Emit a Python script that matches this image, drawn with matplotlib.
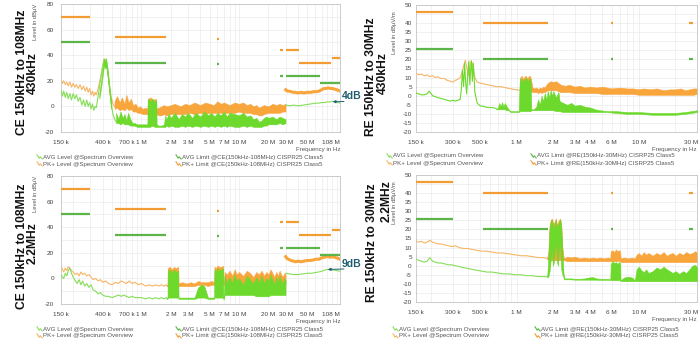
import matplotlib
matplotlib.use("Agg")
import matplotlib.pyplot as plt
from matplotlib.ticker import NullLocator
from matplotlib.lines import Line2D

plt.rcParams['font.family'] = ['Liberation Sans', 'DejaVu Sans']

# ---------------- axis ticks ----------------
ce_x_ticks = [0.15, 0.4, 0.7, 1, 2, 3, 5, 7, 10, 20, 30, 50, 88]
ce_x_labels = ['150 k', '400 k', '700 k', '1 M', '2 M', '3 M', '5 M', '7 M', '10 M', '20 M', '30 M', '50 M', '108 M']
re_x_ticks = [0.15, 0.3, 0.5, 1, 2, 3, 4, 6, 10, 27]
re_x_labels = ['150 k', '300 k', '500 k', '1 M', '2 M', '3 M', '4 M', '6 M', '10 M', '30 M']
ce_y_ticks = [-20, 0, 20, 40, 60, 80]
re_y_ticks = [-20, -15, -10, -5, 0, 5, 10, 15, 20, 25, 30, 35, 40, 50]

# ---------------- limits (MHz start, MHz stop, level) ----------------
ce_pk_lim_start = [0.15, 0.53, 5.9, 26, 30, 41.5, 89]
ce_pk_lim_stop = [0.30, 1.8, 6.2, 28, 41, 88, 108]
ce_pk_lim_level = [70, 54, 53, 44, 44, 34, 38]
ce_avg_lim_start = [0.15, 0.53, 5.9, 26, 30, 68]
ce_avg_lim_stop = [0.30, 1.8, 6.2, 28, 68, 108]
ce_avg_lim_level = [50, 34, 33, 24, 24, 18]
re_lim_start = [0.15, 0.53, 5.9, 26]
re_lim_stop = [0.30, 1.8, 6.2, 28]
re_pk_lim_level = [46, 40, 40, 40]
re_avg_lim_level = [26, 20, 20, 20]

# ---------------- CE 430 kHz ----------------
ce1_pk_f = [0.150, 0.155, 0.160, 0.166, 0.172, 0.178, 0.185, 0.192, 0.200, 0.208,
            0.216, 0.225, 0.235, 0.245, 0.255, 0.265, 0.275, 0.285, 0.295, 0.305,
            0.315, 0.325, 0.335, 0.345, 0.360, 0.380, 0.400, 0.415, 0.425, 0.435,
            0.450, 0.470, 0.490, 0.510, 0.530]
ce1_pk_v = [21, 18, 20, 17, 19, 16, 19, 15, 18, 15,
            17, 14, 17, 13, 16, 12, 15, 11, 14, 9,
            12, 8, 11, 9, 14, 22, 31, 37, 34, 37,
            29, 17, 7, 2, 0]
ce1_avg_f = [0.150, 0.155, 0.160, 0.166, 0.172, 0.178, 0.185, 0.192, 0.200, 0.208,
             0.216, 0.225, 0.235, 0.245, 0.255, 0.265, 0.275, 0.285, 0.295, 0.305,
             0.315, 0.325, 0.335, 0.345, 0.360, 0.380, 0.400, 0.415, 0.425, 0.435,
             0.450, 0.470, 0.490, 0.510, 0.530, 0.550]
ce1_avg_v = [13, 8, 12, 7, 11, 6, 10, 5, 10, 6,
             9, 4, 7, 1, 5, 0, 5, 0, 3, -2,
             2, -3, 0, -1, 8, 20, 31, 37, 33, 37,
             28, 15, 3, -6, -10, -12]
ce1_peak_f = [0.37, 0.39, 0.405, 0.415, 0.425, 0.435, 0.45, 0.47, 0.49]
ce1_peak_lo = [6, 17, 27, 32, 30, 31, 24, 10, -2]
ce1_peak_hi = [10, 22, 33, 37, 35, 37, 29, 15, 3]
ce1_pk_band_f = [0.53, 0.56, 0.60, 0.63, 0.67, 0.70, 0.74, 0.78, 0.82, 0.87,
                 0.92, 0.97, 1.03, 1.10, 1.15, 1.17, 1.24, 1.32, 1.40, 1.43,
                 1.50, 1.60, 1.70, 1.80, 2.0, 2.2, 2.5, 2.8, 3.1, 3.5,
                 4.0, 4.5, 5.0, 5.5, 6.0, 6.5, 7.0, 8.0, 9.0, 10,
                 11, 12, 13, 14, 15, 16, 17, 18, 20, 22,
                 24, 26, 28, 29.9]
ce1_pk_band_hi = [4, 8, 3, 7, 2, 9, 3, 6, 1, 2,
                  -1, 0, -2, -1, -2, 6, 7, 5, 6, -2,
                  -1, 0, 1, 0, 1, 2, 0, 2, 1, 3,
                  1, 3, 2, 1, 4, 2, 3, 1, 3, 2,
                  3, 1, 2, 0, 1, -1, 0, 1, 0, 2,
                  1, 2, 1, 2]
ce1_pk_band_lo = [-2, -1, -3, -2, -3, -1, -3, -2, -4, -4,
                  -5, -5, -6, -6, -6, -6, -7, -6, -7, -6,
                  -7, -7, -6, -7, -6, -6, -6, -6, -5, -6,
                  -5, -6, -5, -5, -5, -5, -5, -5, -5, -4,
                  -5, -5, -5, -6, -6, -7, -7, -6, -5, -5,
                  -5, -5, -4, -4]
ce1_avg_band_f = [0.55, 0.58, 0.61, 0.64, 0.67, 0.70, 0.73, 0.77, 0.81, 0.85,
                  0.90, 1.00, 1.10, 1.15, 1.16, 1.22, 1.30, 1.36, 1.42, 1.43,
                  1.50, 1.60, 1.70, 1.75, 1.80, 1.90, 2.0, 2.2, 2.4, 2.6,
                  2.8, 3.0, 3.3, 3.6, 4.0, 4.4, 4.8, 5.2, 5.6, 6.0,
                  6.5, 7.0, 7.5, 8, 9, 10, 11, 12, 13, 14,
                  15, 16, 17, 18, 19, 20, 22, 24, 26, 28,
                  29.9]
ce1_avg_band_hi = [-5, -10, -4, -9, -6, -11, -5, -10, -13, -13,
                   -14, -14, -14, -14, 6, 4, 6, 3, 5, -14,
                   -15, -15, -14, -7, -10, -6, -9, -5, -10, -6,
                   -8, -5, -9, -5, -8, -4, -7, -5, -8, -5,
                   -7, -4, -8, -5, -6, -7, -5, -8, -7, -10,
                   -9, -12, -11, -9, -8, -9, -8, -10, -8, -9,
                   -10]
ce1_avg_band_lo = [-13, -13, -14, -13, -14, -14, -14, -15, -15, -15,
                   -16, -16, -16, -16, -16, -16, -15, -16, -16, -16,
                   -16, -16, -16, -16, -15, -16, -15, -16, -16, -15,
                   -16, -15, -16, -15, -16, -15, -16, -15, -16, -15,
                   -16, -15, -16, -15, -16, -16, -15, -16, -15, -16,
                   -16, -16, -16, -15, -15, -14, -14, -14, -13, -14,
                   -13]
ce1_pk_hf_f = [30, 31, 32, 34, 36, 38, 40, 43, 46, 50, 54, 58, 62, 66, 70, 74, 78, 82, 86, 90, 95, 100, 104, 108]
ce1_pk_hf_v = [13, 12, 12, 11.5, 11, 11, 10.5, 11, 10.5, 11, 11, 11.5, 11.5, 12, 13, 14, 14, 14.5, 14, 14, 13.5, 13, 12.5, 12]
ce1_avg_hf_f = [30, 33, 36, 40, 45, 50, 55, 60, 65, 70, 75, 80, 85, 90, 95, 100, 104, 108]
ce1_avg_hf_v = [1, 0.5, 1, 0.5, 1, 1.5, 2, 2.5, 2.5, 3, 3, 3.5, 3.5, 4, 4, 3.5, 3, 2.5]

# ---------------- CE 2.2 MHz ----------------
ce2_lf_f = [0.150, 0.155, 0.160, 0.166, 0.172, 0.178, 0.185, 0.192, 0.200, 0.210,
            0.220, 0.230, 0.240, 0.250, 0.262, 0.275, 0.290, 0.305, 0.320, 0.340,
            0.360, 0.380, 0.400, 0.430, 0.460, 0.500, 0.540, 0.580, 0.620, 0.660,
            0.700, 0.750, 0.800, 0.860, 0.930, 1.00, 1.10, 1.20, 1.30, 1.40,
            1.50, 1.60, 1.70, 1.80]
ce2_pk_v = [10, 7, 5, 8, 6, 9, 8, 6, 5, 3,
            4, 2, 5, 3, 4, 2, 3, 1, -1, 0,
            -2, -1, -3, -2, -4, -5, -3, -4, -2, -3,
            -4, -2, -4, -3, -5, -4, -6, -5, -6, -5,
            -6, -5, -6, -5]
ce2_avg_v = [3, 1, 0, 4, 2, 6, 8, 4, 1, -2,
             -4, -1, -5, -2, -6, -4, -7, -5, -9, -10,
             -12, -11, -13, -14, -14, -15, -14, -13, -14, -13,
             -14, -15, -14, -15, -15, -15, -16, -15, -16, -15,
             -16, -15, -16, -15]
ce2_band_f = [1.80, 1.85, 1.86, 1.95, 2.05, 2.15, 2.25, 2.38, 2.40, 2.6,
              2.9, 3.2, 3.5, 3.8, 4.1, 4.4, 4.8, 5.2, 5.55, 5.6,
              5.8, 6.0, 6.3, 6.6, 6.85, 6.9, 7.0, 7.1, 7.5, 8.0,
              8.5, 9.0, 9.5, 10, 11, 12, 13, 14, 15, 16,
              17, 18, 19, 20, 21, 22, 23, 24, 25, 26,
              27, 28, 29, 29.9]
ce2_pk_band_hi = [-5, -5, 8, 9, 7, 9, 8, 9, -4, -3,
                  -4, -3, -4, -2, -3, -3, -3, -2, -3, 9,
                  8, 10, 9, 9, 10, -2, -3, 5, 3, 6,
                  2, 7, 3, 5, 2, 6, 4, 1, 5, 3,
                  6, 2, 5, 3, 7, 4, 1, 5, 2, 6,
                  3, 1, 4, 3]
ce2_pk_band_lo = [-6, -6, -6, -6, -6, -6, -6, -6, -6, -6,
                  -6, -6, -6, -5, -5, -5, -6, -5, -5, -5,
                  -5, -5, -5, -5, -5, -5, -5, -5, -5, -5,
                  -5, -5, -5, -5, -5, -5, -5, -5, -5, -5,
                  -5, -5, -5, -5, -5, -5, -4, -4, -4, -4,
                  -4, -4, -4, -4]
ce2_avg_band_hi = [-15, -15, 6, 7, 4, 7, 5, 6, -15, -15,
                   -15, -15, -15, -7, -5, -6, -15, -15, -15, 7,
                   5, 8, 6, 7, 8, -15, -15, 2, -3, 1,
                   -4, 3, -2, 0, -5, 2, -1, -4, 1, -3,
                   2, -4, 0, -2, 3, -1, -5, 1, -3, 2,
                   -2, -4, 0, -1]
ce2_avg_band_lo = [-16, -16, -15, -15, -15, -15, -15, -15, -16, -16,
                   -16, -16, -16, -15, -15, -15, -16, -16, -16, -15,
                   -15, -15, -15, -15, -15, -16, -16, -13, -13, -13,
                   -13, -13, -13, -13, -13, -13, -13, -13, -14, -14,
                   -14, -14, -14, -14, -13, -13, -13, -13, -13, -13,
                   -13, -13, -13, -13]
ce2_pk_hf_f = [30, 31, 32, 34, 36, 38, 40, 43, 46, 50, 54, 58, 62, 66, 70, 74, 78, 82, 86, 90, 95, 100, 104, 108]
ce2_pk_hf_v = [17, 15.5, 15, 14, 13.5, 13, 13.5, 13, 13.5, 14, 14, 14.5, 15, 15, 16, 16.5, 17, 17, 16.5, 17, 16.5, 16, 15.5, 15]
ce2_avg_hf_f = [30, 33, 36, 40, 45, 50, 55, 60, 65, 70, 75, 80, 85, 90, 95, 100, 104, 108]
ce2_avg_hf_v = [4, 3.5, 3, 3, 3.5, 4, 4, 4.5, 5, 5.5, 6.5, 7, 7, 6.5, 6.5, 6, 6, 5.5]

# ---------------- RE 430 kHz ----------------
re1_pk_f = [0.150, 0.158, 0.166, 0.175, 0.185, 0.195, 0.205, 0.215, 0.225, 0.240,
            0.255, 0.270, 0.285, 0.300, 0.315, 0.330, 0.345, 0.358, 0.370, 0.380,
            0.390, 0.402, 0.414, 0.425, 0.438, 0.455, 0.475, 0.500, 0.540, 0.580,
            0.630, 0.680, 0.740, 0.800, 0.870, 0.950, 1.070]
re1_pk_v = [12.5, 11.5, 12, 11, 11.5, 10.5, 11, 10, 10.5, 9.5,
            9.5, 8.5, 8, 7.5, 8.5, 9, 10, 13, 17, 19.5,
            16, 11, 16, 19.5, 16, 10, 7.5, 7, 6.5, 6,
            5.5, 5, 5, 4.5, 4, 3.5, 3]
re1_avg_f = [0.150, 0.158, 0.166, 0.175, 0.185, 0.192, 0.198, 0.205, 0.215, 0.225,
             0.240, 0.255, 0.270, 0.285, 0.300, 0.315, 0.330, 0.345, 0.352, 0.360,
             0.368, 0.375, 0.382, 0.390, 0.398, 0.406, 0.414, 0.420, 0.427, 0.434,
             0.442, 0.455, 0.475, 0.500, 0.540, 0.580, 0.630, 0.680]
re1_avg_v = [1.5, 1, 0.5, 0.5, 1, 2.5, 1.5, 0, -0.5, -1,
             -1.5, -2, -2.5, -3, -2.5, -3, -2.5, -2, 3, 14,
             5, 18, 8, 1, 12, 19, 6, 14, 19, 8,
             18, 2, -4, -5.5, -6, -6.5, -6.5, -7]
re1_avg_band_f = [0.68, 0.70, 0.72, 0.74, 0.76, 0.78, 0.80, 0.83, 0.86, 0.89,
                  0.92, 0.98, 1.04, 1.06, 1.08, 1.11, 1.14, 1.17, 1.20, 1.23,
                  1.26, 1.30, 1.32, 1.38, 1.45, 1.50, 1.55, 1.60, 1.65, 1.70,
                  1.75, 1.80, 1.85, 1.90, 1.95, 2.0, 2.1, 2.2, 2.25, 2.4,
                  2.6, 2.8, 3.0, 3.3, 3.6, 4.0, 4.4, 4.8, 5.5, 6.5,
                  8, 10, 13, 16, 20, 24, 27, 30]
re1_avg_band_hi = [-7, -7, -4, -6, -3.5, -6, -4, -6, -7.5, -8.5,
                   -8.5, -8.5, -8.5, 8, 10, 7, 9.5, 8, 10, 7.5,
                   9, 9.5, -7.5, -7.5, -6, -2, -5, 0, -3, 1.5,
                   -2, 2.5, -1, 3, 0, 2.5, -1, 2, -3, -4,
                   -5, -4, -5.5, -5, -6, -6.5, -7.5, -8, -8.5, -8.5,
                   -9, -9, -9.5, -9.5, -9.5, -9, -8.5, -8]
re1_avg_band_lo = [-7.5, -7.5, -7.5, -7.5, -7.5, -7.5, -7.5, -8, -8, -9,
                   -9, -9, -9, -8.5, -8.5, -8.5, -8.5, -8.5, -8.5, -8.5,
                   -8.5, -8.5, -8, -8, -8, -8, -8, -8, -8, -8,
                   -8, -8, -8, -8, -8, -8, -8.5, -8.5, -8.5, -9,
                   -9, -9, -9, -9, -9, -9, -9, -9, -9, -9.5,
                   -10, -10, -10.5, -10.5, -10.5, -10, -9.5, -9]
re1_pk_band_f = [1.07, 1.10, 1.13, 1.16, 1.19, 1.22, 1.25, 1.28, 1.30, 1.35,
                 1.40, 1.45, 1.50, 1.55, 1.60, 1.65, 1.70, 1.75, 1.80, 1.90,
                 2.0, 2.1, 2.2, 2.3, 2.5, 2.7, 3.0, 3.3, 3.6, 4.0,
                 4.5, 5.0, 5.5, 6.0, 7.0, 8.0, 9.0, 10, 11, 12.5,
                 14, 16, 18, 20, 22, 24, 26, 28, 30]
re1_pk_band_hi = [10, 11, 9, 10.5, 11, 9.5, 10.5, 11, 10, 4.5,
                  4, 4.5, 3.5, 4.5, 4, 5, 4.5, 6, 7, 8,
                  7.5, 8, 7, 6, 5.5, 6, 5, 5.5, 4.5, 5,
                  4.5, 5, 4.5, 4, 4.5, 4, 4, 3.5, 4, 3.5,
                  4, 3, 3.5, 3.5, 4, 3, 3.5, 4, 4]
re1_pk_band_lo = [2.5, 2.5, 2.5, 2.5, 2.5, 2.5, 2.5, 2.5, 2.5, 2,
                  2, 2, 1.5, 2, 1.5, 2, 2, 2.5, 3, 3,
                  3, 3, 2.5, 2, 2, 2, 1.5, 1.5, 1.5, 1.5,
                  1.5, 1, 1, 1, 1, 1, 1, 0.5, 0.5, 0.5,
                  0.5, 0.5, 0.5, 0.5, 0.5, 0.5, 0.5, 0.5, 1]

# ---------------- RE 2.2 MHz ----------------
re2_lf_f = [0.150, 0.158, 0.166, 0.175, 0.185, 0.195, 0.205, 0.215, 0.228, 0.242,
            0.258, 0.275, 0.295, 0.315, 0.340, 0.365, 0.395, 0.430, 0.470, 0.520,
            0.570, 0.630, 0.700, 0.780, 0.870, 0.970, 1.08, 1.20, 1.35, 1.50,
            1.65, 1.78]
re2_pk_v = [13.5, 13, 13.5, 12.5, 13, 14, 13, 12.5, 12, 12,
            11.5, 11, 10.5, 11, 10, 9.5, 9.5, 9, 8.5, 8,
            8, 7.5, 7, 7, 6.5, 6, 5.5, 5.5, 5, 4.5,
            4.5, 4]
re2_avg_v = [3.5, 3, 2.5, 2, 2.5, 4.5, 2.5, 2, 1.5, 1.5,
             1, 0.5, 0.5, 0, -0.5, -1, -1.5, -2, -2.5, -3,
             -3.5, -3.5, -4, -4.5, -4.5, -5, -5, -5.5, -5.5, -6,
             -6, -6]
re2_peak_f = [1.78, 1.82, 1.86, 1.90, 1.94, 1.98, 2.02, 2.06, 2.10, 2.14,
              2.18, 2.22, 2.27, 2.32, 2.37, 2.42, 2.46]
re2_peak_pk_hi = [4, 8, 22, 25, 26, 24, 23, 25, 26, 22, 24, 25, 26, 23, 10, 5, 4]
re2_peak_pk_lo = [3.5, 3, 3, 3, 3, 3, 3, 3, 3, 3, 3, 3, 3, 3, 3, 3, 3]
re2_peak_avg_hi = [-6, 5, 20, 24, 25.5, 22, 21, 24, 25, 20, 22, 24, 25.5, 21, 8, -4, -7]
re2_peak_avg_lo = [-6.5, -6, -3, 3, 10, 0, 2, 10, 14, 2, 0, 10, 12, -2, -5, -6.5, -7.5]
re2_band_f = [2.46, 2.6, 2.8, 3.0, 3.3, 3.6, 3.9, 4.2, 4.5, 4.8,
              5.2, 5.6, 5.85, 5.9, 6.1, 6.3, 6.5, 6.7, 6.9, 7.05,
              7.1, 7.6, 8.2, 8.8, 9.3, 9.6, 10, 10.5, 11, 11.5,
              12, 13, 14, 15, 16, 17, 18, 19, 20, 21.5,
              23, 24.5, 26, 27.5, 29, 30]
re2_pk_band_hi = [4, 5, 4.5, 5, 4, 4.5, 4, 4.5, 4, 4.5,
                  4, 4.5, 4, 8, 8.5, 7.5, 9, 8, 8.5, 8,
                  4, 4.5, 4, 4.5, 4, 6, 7, 5.5, 7.5, 6,
                  7, 5.5, 7, 6, 7.5, 5.5, 6.5, 7, 5.5, 7,
                  6, 7.5, 6.5, 7, 8, 7]
re2_pk_band_lo = [3, 2.5, 2.5, 2.5, 2.5, 2.5, 2.5, 2.5, 2.5, 2.5,
                  2.5, 2.5, 2.5, 2.5, 2.5, 2.5, 2.5, 2.5, 2.5, 2.5,
                  2, 2, 2, 2, 2, 2, 2, 2, 2, 2,
                  2, 2, 2, 2, 2, 2, 2, 2, 2, 2,
                  2, 2, 2, 2, 2, 2]
re2_avg_band_hi = [-7, -7, -7, -7.2, -7.2, -7, -6.5, -6.3, -7, -7.2,
                   -7.2, -7.3, -7.3, 1, 2.5, 1.5, 2, 1, 2, 1.5,
                   -8, -6.5, -6, -6.5, -8, -2, -0.5, -2.5, -3.5, -2,
                   -4, -3, -1, -2, -0.5, -2, -3, -4, -3, -4.5,
                   -3, -4, -2, 0, 0.5, -1]
re2_avg_band_lo = [-7.5, -7.5, -7.5, -7.7, -7.7, -7.7, -7.7, -7.7, -7.7, -7.8,
                   -7.8, -7.8, -7.8, -8, -8, -8, -8, -8, -8, -8,
                   -8.5, -8.5, -8.5, -8.5, -8.5, -8.5, -8.5, -8.5, -8.5, -8.5,
                   -8.5, -8.5, -8.5, -8.5, -8.5, -8.5, -8.5, -8.5, -8.5, -8.5,
                   -8.5, -8.5, -8.5, -8.5, -8.5, -8.5]

# ---------------- text ----------------
ce_legend = ['AVG Level @Spectrum Overview', 'PK+ Level @Spectrum Overview',
             'AVG Limit @CE(150kHz-108MHz) CISPR25 Class5', 'PK+ Limit @CE(150kHz-108MHz) CISPR25 Class5']
re_legend = ['AVG Level @Spectrum Overview', 'PK+ Level @Spectrum Overview',
             'AVG Limit @RE(150kHz-30MHz) CISRP25 Class5', 'PK+ Limit @RE(150kHz-30MHz) CISRP25 Class5']

# ---------------- styling ----------------
AVG = '#6cd92c'
AVG_THIN = '#86de58'
PK = '#f8a53c'
PK_THIN = '#f7b566'
AVG_LIM = '#5cb548'
PK_LIM = '#f39c34'
GRID = '#ececec'
TEAL = '#1f5f6f'
TXT = '#555555'

W, H = 700, 350
fig = plt.figure(figsize=(7, 3.5), dpi=100)
fig.patch.set_facecolor('white')


def fx(x):
    return x / W


def fy(y):
    return 1 - y / H


def make_ax(l, t, r, b):
    return fig.add_axes([fx(l), fy(b), (r - l) / W, (b - t) / H])


def setup(ax, xmax, ylim, ygrid, xt, xl, yt, ypad):
    ax.set_xscale('log')
    ax.set_xlim(0.15, xmax)
    ax.set_ylim(*ylim)
    for d in (0.1, 1, 10, 100):
        for m in range(1, 10):
            f = d * m
            if 0.15 < f < xmax:
                ax.axvline(f, color=GRID, lw=0.5, zorder=0)
    for yv in ygrid:
        ax.axhline(yv, color=GRID, lw=0.5, zorder=0)
    ax.set_xticks(xt)
    ax.set_xticklabels(xl)
    ax.xaxis.set_minor_locator(NullLocator())
    ax.set_yticks(yt)
    ax.set_yticklabels([str(v) for v in yt])
    ax.tick_params(axis='both', length=0, labelsize=4.6, labelcolor='#444444')
    ax.tick_params(axis='x', pad=6)
    ax.tick_params(axis='y', pad=ypad)
    for s in ax.spines.values():
        s.set_color('#c4c4c4')
        s.set_linewidth(0.6)


def band(ax, f, lo, hi, c, z):
    ax.fill_between(f, lo, hi, color=c, lw=0.4, edgecolor=c, zorder=z)


def limits(ax, start, stop, level, c):
    ax.hlines(level, start, stop, colors=c, lw=1.6, zorder=5)


def icon(x, y, c):
    xs = [x, x + 2.2, x + 3.2, x + 5.2]
    ys = [y - 2.2, y + 1.2, y - 0.2, y + 2.0]
    fig.add_artist(Line2D([fx(v) for v in xs], [fy(v) for v in ys], color=c, lw=0.8))


def legend(xl, xr, y1, y2, names):
    icon(xl, y1, AVG_THIN)
    icon(xl, y2, PK_THIN)
    icon(xr, y1, AVG_LIM)
    icon(xr, y2, PK_LIM)
    for x, y, s in ((xl, y1, names[0]), (xl, y2, names[1]), (xr, y1, names[2]), (xr, y2, names[3])):
        fig.text(fx(x + 6), fy(y), s, fontsize=4.4, color=TXT, ha='left', va='center')


def title(x1, y1, s1, x2, y2, s2):
    fig.text(fx(x1), fy(y1), s1, rotation=90, ha='center', va='center', fontsize=8.7,
             fontweight='bold', color='#111111')
    fig.text(fx(x2), fy(y2), s2, rotation=90, ha='center', va='center', fontsize=8.7,
             fontweight='bold', color='#111111')


# ======== CE panels ========
for (top, bot, data) in ((4, 132, 1), (176, 304, 2)):
    ax = make_ax(61, top, 340, bot)
    setup(ax, 108, (-20, 80), range(-20, 81, 10), ce_x_ticks, ce_x_labels, ce_y_ticks, 5)
    if data == 1:
        ax.plot(ce1_pk_f, ce1_pk_v, color=PK_THIN, lw=0.8, zorder=2)
        band(ax, ce1_pk_band_f, ce1_pk_band_lo, ce1_pk_band_hi, PK, 2)
        ax.plot(ce1_pk_hf_f, ce1_pk_hf_v, color=PK, lw=2.2, zorder=2)
        ax.plot(ce1_avg_f, ce1_avg_v, color=AVG_THIN, lw=0.8, zorder=3)
        band(ax, ce1_peak_f, ce1_peak_lo, ce1_peak_hi, AVG, 3)
        band(ax, ce1_avg_band_f, ce1_avg_band_lo, ce1_avg_band_hi, AVG, 3)
        ax.plot(ce1_avg_hf_f, ce1_avg_hf_v, color=AVG_THIN, lw=0.8, zorder=3)
        ax.annotate('', xy=(91, 3.6), xycoords='data', xytext=(344, H - 101.5),
                    textcoords='figure pixels', annotation_clip=False,
                    arrowprops=dict(arrowstyle='-|>', color=TEAL, lw=0.7, mutation_scale=4,
                                    shrinkA=0, shrinkB=0), zorder=6)
        fig.text(fx(342), fy(96), '4dB', fontsize=7.5, fontweight='bold', color=TEAL,
                 ha='left', va='center')
    else:
        ax.plot(ce2_lf_f, ce2_pk_v, color=PK_THIN, lw=0.8, zorder=2)
        band(ax, ce2_band_f, ce2_pk_band_lo, ce2_pk_band_hi, PK, 2)
        ax.plot(ce2_pk_hf_f, ce2_pk_hf_v, color=PK, lw=2.2, zorder=2)
        ax.plot(ce2_lf_f, ce2_avg_v, color=AVG_THIN, lw=0.8, zorder=3)
        band(ax, ce2_band_f, ce2_avg_band_lo, ce2_avg_band_hi, AVG, 3)
        ax.plot(ce2_avg_hf_f, ce2_avg_hf_v, color=AVG_THIN, lw=0.8, zorder=3)
        ax.annotate('', xy=(81, 7), xycoords='data', xytext=(344, H - 269),
                    textcoords='figure pixels', annotation_clip=False,
                    arrowprops=dict(arrowstyle='-|>', color=TEAL, lw=0.7, mutation_scale=4,
                                    shrinkA=0, shrinkB=0), zorder=6)
        fig.text(fx(342), fy(264), '9dB', fontsize=7.5, fontweight='bold', color=TEAL,
                 ha='left', va='center')
    limits(ax, ce_avg_lim_start, ce_avg_lim_stop, ce_avg_lim_level, AVG_LIM)
    limits(ax, ce_pk_lim_start, ce_pk_lim_stop, ce_pk_lim_level, PK_LIM)
    fig.text(fx(35.5), fy(top), 'Level in dBµV', rotation=90, ha='center', va='top',
             fontsize=4.2, color=TXT)
    fig.text(fx(340), fy(bot + 18), 'Frequency in Hz', ha='right', va='center',
             fontsize=4.4, color=TXT)
    legend(37, 176, bot + 25, bot + 32, ce_legend)

title(22, 72.5, 'CE 150kHz to 108MHz', 33, 73, '430kHz')
title(22, 246, 'CE 150kHz to 108MHz', 33, 243, '2.2MHz')

# ======== RE panels ========
for (top, bot, data) in ((5, 132, 1), (175, 302, 2)):
    ax = make_ax(416, top, 697, bot)
    setup(ax, 30, (-20, 50), range(-20, 51, 5), re_x_ticks, re_x_labels, re_y_ticks, 3)
    if data == 1:
        ax.plot(re1_pk_f, re1_pk_v, color=PK_THIN, lw=0.8, zorder=2)
        band(ax, re1_pk_band_f, re1_pk_band_lo, re1_pk_band_hi, PK, 2)
        ax.plot(re1_avg_f, re1_avg_v, color=AVG, lw=0.8, zorder=3)
        band(ax, re1_avg_band_f, re1_avg_band_lo, re1_avg_band_hi, AVG, 3)
        legend(387, 531, bot + 24, bot + 31, re_legend)
    else:
        ax.plot(re2_lf_f, re2_pk_v, color=PK_THIN, lw=0.8, zorder=2)
        band(ax, re2_peak_f, re2_peak_pk_lo, re2_peak_pk_hi, PK, 2)
        band(ax, re2_band_f, re2_pk_band_lo, re2_pk_band_hi, PK, 2)
        ax.plot(re2_lf_f, re2_avg_v, color=AVG_THIN, lw=0.8, zorder=3)
        band(ax, re2_peak_f, re2_peak_avg_lo, re2_peak_avg_hi, AVG, 3)
        band(ax, re2_band_f, re2_avg_band_lo, re2_avg_band_hi, AVG, 3)
        legend(393, 535, bot + 27, bot + 34, re_legend)
    limits(ax, re_lim_start, re_lim_stop, re_avg_lim_level, AVG_LIM)
    limits(ax, re_lim_start, re_lim_stop, re_pk_lim_level, PK_LIM)
    fig.text(fx(394.5), fy(top + 6), 'Level in dBµV/m', rotation=90, ha='center', va='top',
             fontsize=4.2, color=TXT)
    fig.text(fx(697), fy(bot + 17), 'Frequency in Hz', ha='right', va='center',
             fontsize=4.4, color=TXT)

title(371, 77, 'RE 150kHz to 30MHz', 383, 73, '430kHz')
title(372, 243, 'RE 150kHz to 30MHz', 387, 201, '2.2MHz')

fig.savefig('out.png', dpi=100, facecolor='white')
